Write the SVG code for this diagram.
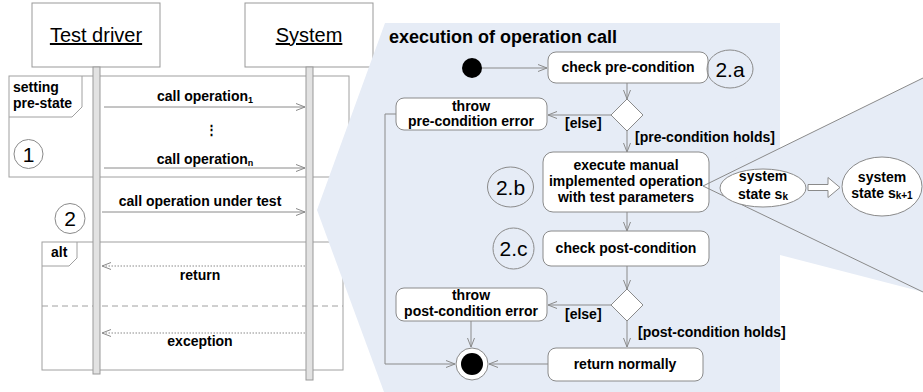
<svg xmlns="http://www.w3.org/2000/svg" width="923" height="392" viewBox="0 0 923 392">
<style>
text{font-family:"Liberation Sans",Arial,sans-serif;fill:#000}
.b{font-weight:bold;font-size:14px}
.c{text-anchor:middle}
.hd{font-size:20px;text-decoration:underline}
.num{font-size:21px}
.box{fill:#fff;stroke:#999;stroke-width:1}
.frame{fill:none;stroke:#a0a0a0;stroke-width:1}
.bar{fill:#e2e2e2;stroke:#999;stroke-width:1}
.ln{fill:none;stroke:#8a8a8a;stroke-width:1}
.dot{fill:none;stroke:#8a8a8a;stroke-width:1;stroke-dasharray:1.5 1.5}
.rr{fill:#fff;stroke:#8a8a8a;stroke-width:1}
.el{fill:#fff;stroke:#8a8a8a;stroke-width:1}
.nb{fill:none;stroke:#8a8a8a;stroke-width:1}
.blue{fill:#e6ecf6;stroke:none}
</style>
<defs>
<marker id="ah" markerWidth="10" markerHeight="10" refX="9" refY="4" orient="auto" markerUnits="userSpaceOnUse">
<path d="M0,0.5 L9,4 L0,7.5" fill="none" stroke="#8a8a8a" stroke-width="1"/>
</marker>
</defs>

<!-- sequence diagram -->
<g id="frame-pre-state">
<rect class="frame" x="9" y="76" width="340" height="101"/>
<path class="frame" d="M9,117 L72,117 L82,107 L82,76"/>
<text class="b" x="13" y="92">setting</text>
<text class="b" x="13" y="108">pre-state</text>
</g>
<g id="frame-alt">
<rect class="frame" x="42" y="242" width="301" height="128"/>
<path class="frame" d="M42,266 L69,266 L77,258 L77,242"/>
<text class="b" x="51" y="257">alt</text>
<line x1="42" y1="306" x2="343" y2="306" stroke="#a0a0a0" stroke-dasharray="6 4"/>
</g>
<g id="test-driver">
<rect class="box" x="32" y="3" width="128" height="64"/>
<text class="hd c" x="96" y="42">Test driver</text>
<rect class="bar" x="93" y="67" width="7" height="307"/>
</g>
<g id="system">
<rect class="box" x="245" y="3" width="128" height="64"/>
<text class="hd c" x="309" y="42">System</text>
<rect class="bar" x="306" y="67" width="7" height="313"/>
</g>
<g id="step1">
<circle class="nb" cx="28.5" cy="154" r="14.5"/>
<text class="num c" x="28.5" y="161.5">1</text>
</g>
<g id="step2">
<circle class="nb" cx="70" cy="218.5" r="15"/>
<text class="num c" x="70" y="226">2</text>
</g>
<g id="messages">
<line class="ln" x1="104" y1="107" x2="305" y2="107" marker-end="url(#ah)"/>
<text class="b c" x="205" y="101">call operation<tspan font-size="9" dy="2">1</tspan></text>
<text x="211" y="134" font-family="DejaVu Sans" font-size="13" font-weight="bold" text-anchor="middle">⋮</text>
<line class="ln" x1="104" y1="168" x2="305" y2="168" marker-end="url(#ah)"/>
<text class="b c" x="205" y="164">call operation<tspan font-size="9" dy="2">n</tspan></text>
<line class="ln" x1="102" y1="212" x2="305" y2="212" marker-end="url(#ah)"/>
<text class="b c" x="200" y="206">call operation under test</text>
<line class="dot" x1="305" y1="266" x2="102" y2="266" marker-end="url(#ah)"/>
<text class="b c" x="200" y="280">return</text>
<line class="dot" x1="305" y1="333" x2="102" y2="333" marker-end="url(#ah)"/>
<text class="b c" x="200" y="346">exception</text>
</g>

<!-- zoom panels -->
<g id="panel">
<polygon class="blue" points="385,23 780,23 780,392 384,392 317,210"/>
<polygon class="blue" points="703,186 923,78 923,292 780,255 780,120"/>
</g>

<g id="title"><text x="389" y="43" font-size="18" font-weight="bold">execution of operation call</text></g>

<g id="connectors">
<line class="ln" x1="482" y1="68" x2="547" y2="68" marker-end="url(#ah)"/>
<line class="ln" x1="627" y1="83" x2="627" y2="99" marker-end="url(#ah)"/>
<line class="ln" x1="611" y1="115" x2="548" y2="115" marker-end="url(#ah)"/>
<polyline class="ln" points="396,114 385,114 385,364 455,364" marker-end="url(#ah)"/>
<line class="ln" x1="627" y1="131" x2="627" y2="152" marker-end="url(#ah)"/>
<line class="ln" x1="627" y1="212" x2="627" y2="231" marker-end="url(#ah)"/>
<line class="ln" x1="627" y1="266" x2="627" y2="289" marker-end="url(#ah)"/>
<line class="ln" x1="611" y1="305" x2="548" y2="305" marker-end="url(#ah)"/>
<line class="ln" x1="471" y1="321" x2="471" y2="347" marker-end="url(#ah)"/>
<line class="ln" x1="627" y1="321" x2="627" y2="347" marker-end="url(#ah)"/>
<line class="ln" x1="548" y1="364" x2="489" y2="364" marker-end="url(#ah)"/>
<text class="b" x="565" y="128">[else]</text>
<text class="b" x="635" y="142">[pre-condition holds]</text>
<text class="b" x="565" y="319">[else]</text>
<text class="b" x="638" y="337">[post-condition holds]</text>
</g>

<g id="start"><circle cx="472" cy="68" r="10" fill="#000"/></g>
<g id="check-pre">
<rect class="rr" x="548" y="52" width="160" height="31" rx="8"/>
<text class="b c" x="628" y="72">check pre-condition</text>
</g>
<g id="step2a">
<ellipse class="nb" cx="730" cy="69" rx="23" ry="19"/>
<text class="num c" x="730" y="76.5">2.a</text>
</g>
<g id="decision-pre"><polygon class="el" points="627,99 643,115 627,131 611,115"/></g>
<g id="throw-pre">
<rect class="rr" x="396" y="98" width="151" height="32" rx="8"/>
<text class="b c" x="471" y="111">throw</text>
<text class="b c" x="471" y="126">pre-condition error</text>
</g>
<g id="execute">
<rect class="rr" x="543" y="152" width="166" height="60" rx="10"/>
<text class="b c" x="626" y="170">execute manual</text>
<text class="b c" x="626" y="186">implemented operation</text>
<text class="b c" x="626" y="202">with test parameters</text>
</g>
<g id="step2b">
<ellipse class="nb" cx="510.5" cy="187" rx="23" ry="20"/>
<text class="num c" x="510.5" y="194.5">2.b</text>
</g>
<g id="check-post">
<rect class="rr" x="543" y="231" width="166" height="35" rx="8"/>
<text class="b c" x="626" y="253">check post-condition</text>
</g>
<g id="step2c">
<ellipse class="nb" cx="513.5" cy="248.5" rx="20.5" ry="20.5"/>
<text class="num c" x="513.5" y="256">2.c</text>
</g>
<g id="decision-post"><polygon class="el" points="627,289 643,305 627,321 611,305"/></g>
<g id="throw-post">
<rect class="rr" x="396" y="288" width="151" height="33" rx="8"/>
<text class="b c" x="471" y="300">throw</text>
<text class="b c" x="471" y="316">post-condition error</text>
</g>
<g id="return-normally">
<rect class="rr" x="548" y="348" width="155" height="33" rx="8"/>
<text class="b c" x="625" y="369">return normally</text>
</g>
<g id="final">
<circle cx="472" cy="364" r="16" fill="#fff" stroke="#8a8a8a"/>
<circle cx="472" cy="364" r="11" fill="#000"/>
</g>

<g id="zoom-lines">
<line class="ln" x1="703" y1="186" x2="923" y2="78"/>
<line class="ln" x1="703" y1="186" x2="923" y2="292"/>
</g>
<g id="state-k">
<ellipse class="el" cx="763" cy="188" rx="43" ry="19"/>
<text class="b c" x="763" y="181">system</text>
<text class="b c" x="763" y="199">state s<tspan font-size="10" dy="1">k</tspan></text>
</g>
<g id="state-transition">
<polygon points="808,184.5 828,184.5 828,177.5 840,187.5 828,197.5 828,190.5 808,190.5" fill="#fff" stroke="#8a8a8a"/>
</g>
<g id="state-k1">
<ellipse class="el" cx="882" cy="186.5" rx="40" ry="29.5"/>
<text class="b c" x="882" y="182">system</text>
<text class="b c" x="882" y="198">state s<tspan font-size="10" dy="1">k+1</tspan></text>
</g>
</svg>
